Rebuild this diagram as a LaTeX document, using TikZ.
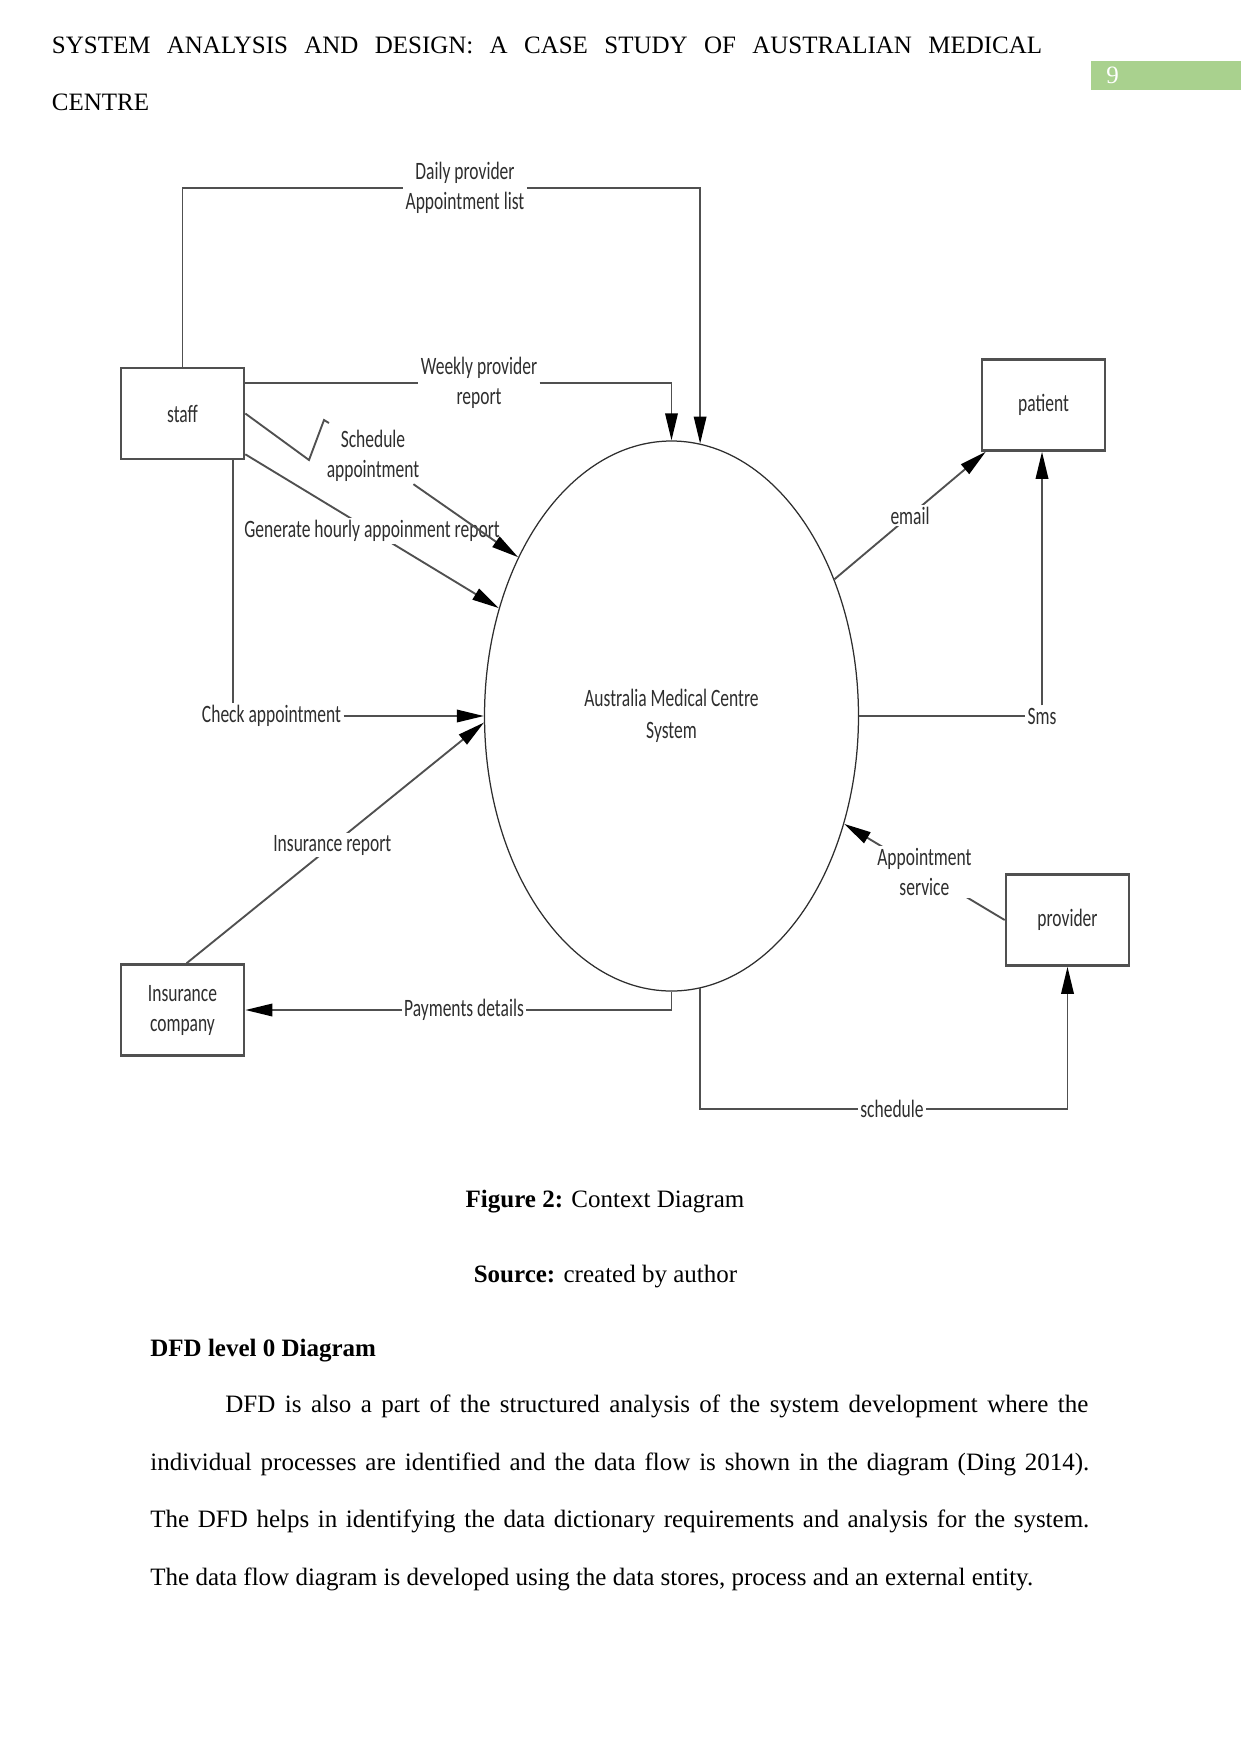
\documentclass[tikz,border=0pt]{standalone}
\usepackage{fontspec}
\setmainfont{Liberation Serif}
\newfontfamily\dfont[FakeStretch=0.70]{Carlito}
\usetikzlibrary{arrows.meta,shapes.geometric,calc}
\definecolor{pgreen}{HTML}{A9D18E}
\definecolor{ink}{HTML}{2E2E2E}
\definecolor{lgray}{HTML}{505050}
\begin{document}
\begin{tikzpicture}[x=0.48pt,y=-0.48pt,
  ent/.style={draw=lgray, line width=1.3pt, minimum width=59pt, minimum height=43.6pt, inner sep=0pt, font=\dfont\fontsize{12}{14.4}\selectfont, text=ink, align=center},
  flow/.style={draw=lgray, line width=0.9pt},
  arr/.style={flow, -{Triangle[length=13pt,width=6pt,color=black]}},
  revarr/.style={flow, {Triangle[length=13pt,width=6pt,color=black]}-},
  lbl/.style={font=\dfont\fontsize{12}{14.4}\selectfont, text=ink, inner sep=1pt, align=center},
  wlbl/.style={lbl, fill=white},
  body/.style={anchor=base west, inner sep=0pt, font=\fontsize{12}{14.4}\selectfont}]
\useasboundingbox (0,0) rectangle (1241,1754);

% header
\node[body] (h1) at (51.5,53) {\makebox[475.4pt][s]{SYSTEM ANALYSIS AND DESIGN: A CASE STUDY OF AUSTRALIAN MEDICAL}};
\node[body] (h2) at (51.5,110) {CENTRE};
\node[fill=pgreen, anchor=north west, minimum width=72pt, minimum height=13.6pt, inner sep=0pt] (pg) at (1091,61) {};
\node[body, text=white] (pnum) at (1106,83) {9};

% entities
\node[ent] (staff) at (182.5,413.5) {staff};
\node[ent] (patient) at (1043.5,405) {patient};
\node[ent] (provider) at (1067.5,920) {provider};
\node[ent] (ins) at (182.5,1010) {Insurance\\company};
\node[ellipse, draw=ink, line width=0.6pt, minimum width=179.5pt, minimum height=264pt, inner sep=0pt, font=\dfont\fontsize{12}{15.4}\selectfont, text=ink, align=center] (sys) at (671.5,716) {Australia Medical Centre\\System};

% labels
\node[lbl] (dl) at (465,188) {Daily provider\\Appointment list};
\node[lbl] (wk) at (479,383) {Weekly provider\\report};
\node[lbl] (sa) at (373,456) {Schedule\\appointment};
\node[lbl] (ck) at (271.5,716) {Check appointment};
\node[lbl] (pd) at (464,1010) {Payments details};
\node[lbl] (sc) at (892,1109) {schedule};
\node[lbl] (sms) at (1042,716) {Sms};

% daily provider appointment list
\draw[flow] (staff.north) |- (dl.west);
\draw[arr] (dl.east) -| (sys.84);
% weekly provider report
\draw[flow] (staff.east |- wk.west) -- (wk.west);
\draw[arr] (wk.east) -| (sys.north);
% generate hourly report
\draw[arr] (staff.-33) -- node[wlbl, pos=0.5] (gh) {Generate hourly appoinment report} (sys.148);
% schedule appointment (bolt)
\coordinate (b1) at (309,460);
\coordinate (b2) at (324,420);
\coordinate (b3) at (329,423);
\draw[flow] (staff.east) -- (b1) -- (b2) -- (b3);
\draw[arr] (sa) -- (sys.134);
% check appointment
\draw[flow] ([xshift=24.2pt]staff.south) -- ([xshift=24.2pt]staff.south |- ck.north);
\draw[arr] (ck.east) -- (sys.west);
% insurance report
\draw[arr] (ins.85) -- node[wlbl, pos=0.49] (ir) {Insurance report} (sys.182);
% payments details
\draw[flow] (sys.south) |- (pd.east);
\draw[arr] (pd.west) -- (ins.east);
% schedule to provider
\draw[flow] (sys.276) |- (sc.west);
\draw[arr] (sc.east) -| (provider.south);
% appointment service
\draw[revarr] (sys.328) -- node[wlbl, pos=0.5] (as) {Appointment\\service} (provider.west);
% email
\draw[arr] (sys.40) -- node[wlbl, pos=0.5] (em) {email} (patient.-141);
% sms
\draw[flow] (sys.east) -- (sms.west);
\draw[arr] (sms.north) -- (sms.north |- patient.south);

% caption and body
\node[anchor=base, inner sep=0pt, font=\fontsize{12}{14.4}\selectfont] (cap) at (605,1207) {\textbf{Figure 2:} Context Diagram};
\node[anchor=base, inner sep=0pt, font=\fontsize{12}{14.4}\selectfont] (src) at (605.5,1282) {\textbf{Source:} created by author};
\node[body] (dfd) at (150,1356) {\textbf{DFD level 0 Diagram}};
\node[body] (l1) at (225,1412) {\makebox[414.2pt][s]{DFD is also a part of the structured analysis of the system development where the}};
\node[body] (l2) at (150,1470) {\makebox[450.7pt][s]{individual processes are identified and the data flow is shown in the diagram (Ding 2014).}};
\node[body] (l3) at (150,1527) {\makebox[450.7pt][s]{The DFD helps in identifying the data dictionary requirements and analysis for the system.}};
\node[body] (l4) at (150,1585) {The data flow diagram is developed using the data stores, process and an external entity.};
\end{tikzpicture}
\end{document}
